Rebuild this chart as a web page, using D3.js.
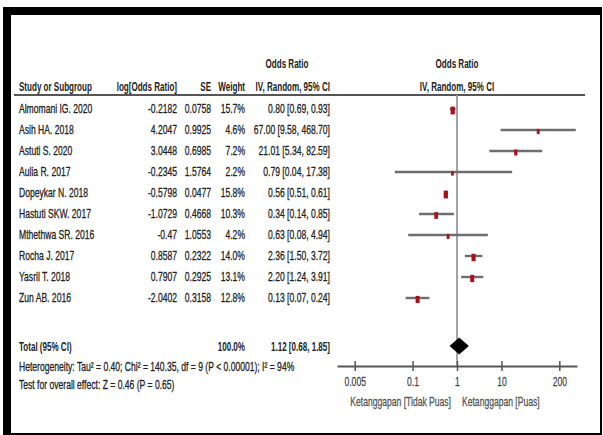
<!DOCTYPE html>
<html><head><meta charset="utf-8">
<script src="https://cdn.jsdelivr.net/npm/d3@7"></script>
<style>
html,body{margin:0;padding:0;background:#fff;}
svg{display:block;}
text{font-family:"Liberation Sans",Arial,sans-serif;font-size:13px;fill:#222;}
</style></head>
<body>
<svg id="c" width="603" height="435"></svg>
<script>
const studies = ["Almomani IG. 2020","Asih HA. 2018","Astuti S. 2020","Aulia R. 2017","Dopeykar N. 2018","Hastuti SKW. 2017","Mthethwa SR. 2016","Rocha J. 2017","Yasril T. 2018","Zun AB. 2016"];
const logOR = [-0.2182, 4.2047, 3.0448, -0.2345, -0.5798, -1.0729, -0.47, 0.8587, 0.7907, -2.0402];
const seVals = [0.0758, 0.9925, 0.6985, 1.5764, 0.0477, 0.4668, 1.0553, 0.2322, 0.2925, 0.3158];
const weights = [15.7, 4.6, 7.2, 2.2, 15.8, 10.3, 4.2, 14.0, 13.1, 12.8];
const oddsRatio = [0.80, 67.00, 21.01, 0.79, 0.56, 0.34, 0.63, 2.36, 2.20, 0.13];
const ciLower = [0.69, 9.58, 5.34, 0.04, 0.51, 0.14, 0.08, 1.50, 1.24, 0.07];
const ciUpper = [0.93, 468.70, 82.59, 17.38, 0.61, 0.85, 4.94, 3.72, 3.91, 0.24];
const total = {weight: 100.0, or: 1.12, lo: 0.68, hi: 1.85};
const tickValues = [0.005, 0.1, 1, 10, 200];
const tickLabels = ["0.005", "0.1", "1", "10", "200"];
const headers = ["Study or Subgroup", "log[Odds Ratio]", "SE", "Weight", "IV, Random, 95% CI"];
const heterogeneity = "Heterogeneity: Tau² = 0.40; Chi² = 140.35, df = 9 (P < 0.00001); I² = 94%";
const overallTest = "Test for overall effect: Z = 0.46 (P = 0.65)";
const favoursLeft = "Ketanggapan [Tidak Puas]";
const favoursRight = "Ketanggapan [Puas]";

const svg = d3.select("#c");
const SX = 0.66, SXB = 0.62;

// frame
svg.append("rect").attr("x",3).attr("y",7).attr("width",599).attr("height",428).attr("fill","#000");
svg.append("rect").attr("x",11).attr("y",15).attr("width",589).attr("height",418).attr("fill","#fff");

function txt(x, y, s, anchor, bold, color) {
  const c = color || "#222";
  return svg.append("text")
    .attr("transform", `translate(${x},${y}) scale(${bold?SXB:SX},1)`)
    .attr("text-anchor", anchor || "start")
    .style("font-weight", bold ? "bold" : "normal")
    .style("fill", c)
    .style("stroke", bold ? "none" : c)
    .style("stroke-width", 0.3)
    .text(s);
}

const x = d3.scaleLog().domain([0.002, 500]).range([337, 577]);
const y = d3.scaleLinear().domain([0, studies.length - 1]).range([108, 297]);
const yTotal = 346, yAxis = 366;

const colX = {study: 19, logor: 177, se: 211, weight: 245, ci: 330};

// headers
txt(287, 68, "Odds Ratio", "middle", true);
txt(x(1), 68, "Odds Ratio", "middle", true);
txt(colX.study, 91, headers[0], "start", true);
txt(colX.logor, 91, headers[1], "end", true);
txt(colX.se, 91, headers[2], "end", true);
txt(colX.weight, 91, headers[3], "end", true);
txt(colX.ci, 91, headers[4], "end", true);
txt(x(1), 91, headers[4], "middle", true);

svg.append("line").attr("x1",14).attr("x2",585).attr("y1",95).attr("y2",95)
  .attr("stroke","#555").attr("stroke-width",2);

// null line
svg.append("line").attr("x1",x(1)).attr("x2",x(1)).attr("y1",95).attr("y2",yAxis)
  .attr("stroke","#999").attr("stroke-width",1.8);

// rows
studies.forEach((s, i) => {
  const yy = y(i);
  txt(colX.study, yy + 4.5, s, "start");
  txt(colX.logor, yy + 4.5, String(logOR[i]), "end");
  txt(colX.se, yy + 4.5, String(seVals[i]), "end");
  txt(colX.weight, yy + 4.5, weights[i].toFixed(1) + "%", "end");
  txt(colX.ci, yy + 4.5, `${oddsRatio[i].toFixed(2)} [${ciLower[i].toFixed(2)}, ${ciUpper[i].toFixed(2)}]`, "end");
  const ly = yy + 1;
  svg.append("line").attr("x1", x(ciLower[i])).attr("x2", x(ciUpper[i]))
    .attr("y1", ly).attr("y2", ly).attr("stroke", "#6e6e6e").attr("stroke-width", 2.4);
  const h = 2.2 + 1.4 * Math.sqrt(weights[i]);
  const w = Math.max(2.6, h * 0.55);
  svg.append("rect").attr("x", x(oddsRatio[i]) - w/2).attr("y", ly + 1.5 - h/2)
    .attr("width", w).attr("height", h).attr("fill", "#a8101c");
});

// total
txt(colX.study, yTotal + 4.5, "Total (95% CI)", "start", true);
txt(colX.weight, yTotal + 4.5, total.weight.toFixed(1) + "%", "end", true);
txt(colX.ci, yTotal + 4.5, `${total.or.toFixed(2)} [${total.lo.toFixed(2)}, ${total.hi.toFixed(2)}]`, "end", true);
const dh = 8.5;
svg.append("path")
  .attr("d", `M${x(total.lo)},${yTotal} L${x(total.or)},${yTotal-dh} L${x(total.hi)},${yTotal} L${x(total.or)},${yTotal+dh} Z`)
  .attr("fill", "#000");

txt(colX.study, 370.5, heterogeneity, "start");
txt(colX.study, 388.5, overallTest, "start");

// axis
const axis = d3.axisBottom(x).tickValues(tickValues)
  .tickFormat((d, i) => tickLabels[i]).tickSize(5).tickSizeOuter(0);
const ag = svg.append("g").attr("transform", `translate(0,${yAxis})`).call(axis);
ag.select(".domain").attr("stroke", "#555").attr("stroke-width", 2);
ag.selectAll(".tick line").attr("y1", -5).attr("y2", 5).attr("stroke", "#555").attr("stroke-width", 1.5);
ag.selectAll(".tick text")
  .attr("transform", `scale(${SX},1)`)
  .attr("y", 20.5).attr("dy", null)
  .style("font-size", "13px").style("fill", "#444").style("stroke", "#444").style("stroke-width", 0.25)
  .style("font-family", '"Liberation Sans",Arial,sans-serif');

txt(x(1) - 6, 405.5, favoursLeft, "end", false, "#555");
txt(x(1) + 5, 405.5, favoursRight, "start", false, "#555");
</script>
</body></html>
